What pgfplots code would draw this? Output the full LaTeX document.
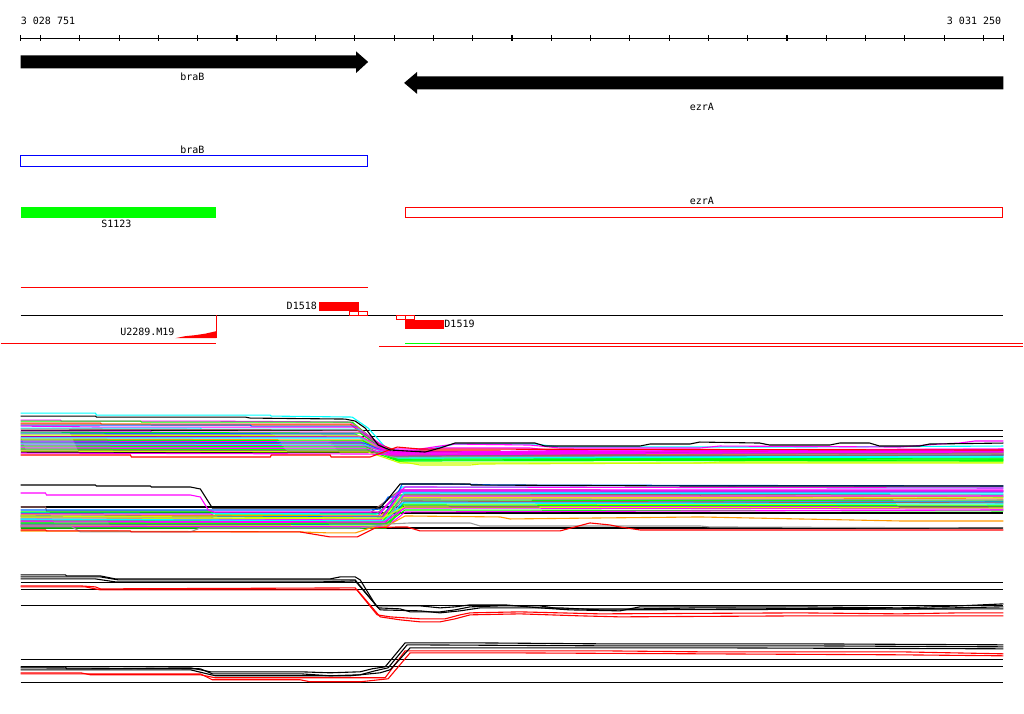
\documentclass[border=0pt]{standalone}
\usepackage{fontspec}
\setmainfont{DejaVu Sans Mono}
\usepackage{pgfplots}
\pgfplotsset{compat=1.18}
\definecolor{cM}{HTML}{FF00FF}
\definecolor{cC}{HTML}{00FFFF}
\definecolor{cL}{HTML}{00FF00}
\definecolor{cB}{HTML}{0066FF}
\definecolor{cO}{HTML}{FF9900}
\definecolor{cW}{HTML}{996666}
\definecolor{cG}{HTML}{999999}
\definecolor{cY}{HTML}{CCFF00}
\definecolor{cR}{HTML}{FF0000}
\definecolor{cK}{HTML}{000000}
\definecolor{cBl}{HTML}{0000FF}
\begin{document}
\begin{tikzpicture}[lbl/.style={font=\fontsize{5}{5}\selectfont, inner sep=0pt}]
\begin{axis}[
  scale only axis, width=512pt, height=357pt,
  xmin=-0.5, xmax=1023.5, ymin=-0.5, ymax=713.5, y dir=reverse,
  hide axis, clip=false, no markers,
  unbounded coords=jump,
  every axis plot/.append style={line width=0.55pt},
]
\path (axis cs:-0.5,-0.5) rectangle (axis cs:1023.5,713.5);

% ruler
\addplot[cK, line width=0.6pt] coordinates {(20,38)(1004,38)};
\addplot[cK] coordinates {
 (20,35)(20,41)(20,nan)(40,35)(40,41)(40,nan)(79.3,35)(79.3,41)(79.3,nan)
 (118.7,35)(118.7,41)(118.7,nan)(158,35)(158,41)(158,nan)(197.3,35)(197.3,41)(197.3,nan)
 (236.7,35)(236.7,41)(236.7,nan)(276,35)(276,41)(276,nan)(315.3,35)(315.3,41)(315.3,nan)
 (354.7,35)(354.7,41)(354.7,nan)(394,35)(394,41)(394,nan)(433.3,35)(433.3,41)(433.3,nan)
 (472.7,35)(472.7,41)(472.7,nan)(512,35)(512,41)(512,nan)(551.3,35)(551.3,41)(551.3,nan)
 (590.7,35)(590.7,41)(590.7,nan)(630,35)(630,41)(630,nan)(669.3,35)(669.3,41)(669.3,nan)
 (708.7,35)(708.7,41)(708.7,nan)(748,35)(748,41)(748,nan)(787.3,35)(787.3,41)(787.3,nan)
 (826.7,35)(826.7,41)(826.7,nan)(866,35)(866,41)(866,nan)(905.3,35)(905.3,41)(905.3,nan)
 (944.7,35)(944.7,41)(944.7,nan)(984,35)(984,41)(984,nan)(1004,35)(1004,41)};
\node[lbl, anchor=west] at (axis cs:20,20) {3 028 751};
\node[lbl, anchor=east] at (axis cs:1002,20) {3 031 250};

% genes
\addplot[fill=cK, draw=none] coordinates {(20,55)(356,55)(356,51)(368,61.5)(356,72.5)(356,68)(20,68)} --cycle;
\node[lbl] at (axis cs:192,76.5) {braB};
\addplot[fill=cK, draw=none] coordinates {(1004,76)(417,76)(417,71.5)(404,82.5)(417,93.5)(417,89)(1004,89)} --cycle;
\node[lbl] at (axis cs:702,106.5) {ezrA};

\node[lbl] at (axis cs:192,149) {braB};
\addplot[cBl] coordinates {(20,155)(367,155)(367,166)(20,166)} --cycle;
\addplot[fill=cL, draw=none] coordinates {(20,207)(216,207)(216,217.5)(20,217.5)} --cycle;
\node[lbl] at (axis cs:116,224) {S1123};
\node[lbl] at (axis cs:702,200.5) {ezrA};
\addplot[cR] coordinates {(405,207)(1003,207)(1003,217)(405,217)} --cycle;

% features
\addplot[cR] coordinates {(20,287)(368,287)};
\addplot[cK] coordinates {(20,315)(1004,315)};
\addplot[fill=cR, draw=none] coordinates {(319,302)(358.5,302)(358.5,310.5)(319,310.5)} --cycle;
\addplot[cR] coordinates {(349,311)(367,311)(367,315)(349,315)} --cycle;
\addplot[cR] coordinates {(358,311)(358,315)};
\node[lbl, anchor=east] at (axis cs:317,306) {D1518};
\addplot[cR] coordinates {(396,315)(414,315)(414,319)(396,319)} --cycle;
\addplot[cR] coordinates {(405,315)(405,319)};
\addplot[fill=cR, draw=none] coordinates {(405,320)(444,320)(444,328.5)(405,328.5)} --cycle;
\node[lbl, anchor=west] at (axis cs:444,324) {D1519};
\addplot[fill=cR, draw=none] coordinates {(175,338)(185,336)(195,335)(205,333.5)(216,331)(216,338)} --cycle;
\addplot[cR] coordinates {(216,315)(216,338)};
\node[lbl, anchor=east] at (axis cs:174.5,332) {U2289.M19};
\addplot[cR] coordinates {(0,343)(216,343)};
\addplot[cL] coordinates {(405,343)(440,343)};
\addplot[cR] coordinates {(440,343)(1024,343)};
\addplot[cR] coordinates {(379,346)(1024,346)};

% group 1
\addplot[cK] coordinates {(20,430)(1004,430)};
\addplot[cK] coordinates {(20,436)(1004,436)};
\addplot[cK] coordinates {(20,452)(1004,452)};
\addplot[cC] coordinates {(20,413)(95,413)(96,415)(270,415)(271,416)(352,417)(368,428)(385,447)(405,452)(430,449)(455,444)(535,444)(560,447)(800,447)(1004,446)};
\addplot[cM] coordinates {(20,420)(60,420)(61,421)(200,421)(350,422)(385,449)(420,449)(440,446)(455,444)(530,445)(560,448)(700,448)(720,446)(900,447)(940,444)(960,443)(975,441)(1004,441)};
\addplot[cL] coordinates {(20,421)(140,421)(141,422)(352,422)(392,455)(420,457)(600,457)(601,458)(1004,459)};
\addplot[cR] coordinates {(20,423)(100,423)(101,424)(350,424)(370,440)(396,451)(500,451)(501,452)(1004,451)};
\addplot[cO] coordinates {(20,424)(150,424)(151,425)(355,425)(388,453)(410,455)(800,454)(1004,455)};
\addplot[cB] coordinates {(20,425)(250,425)(251,426)(355,426)(390,456)(600,455)(601,454)(1004,453)};
\addplot[cM] coordinates {(20,426)(100,427)(356,427)(392,452)(440,448)(530,448)(560,451)(1004,450)};
\addplot[cC] coordinates {(20,428)(200,428)(201,429)(358,429)(390,457)(1004,456)};
\addplot[cW] coordinates {(20,429)(358,430)(394,455)(800,454)(1004,453)};
\addplot[cM] coordinates {(20,431)(150,431)(151,432)(360,432)(388,453)(600,450)(1004,449)};
\addplot[cL] coordinates {(20,432)(300,433)(360,433)(396,459)(1004,460)};
\addplot[cB] coordinates {(20,433)(355,434)(392,456)(1004,455)};
\addplot[cG] coordinates {(20,434)(357,435)(386,454)(1004,452)};
\addplot[cY] coordinates {(20,435)(360,436)(398,461)(420,465)(470,465)(480,464)(700,463)(720,462)(1004,462)};
\addplot[cM] coordinates {(20,437)(362,437)(390,453)(1004,451)};
\addplot[cC] coordinates {(20,438)(360,438)(394,457)(1004,457)};
\addplot[cO] coordinates {(20,439)(362,440)(392,455)(1004,454)};
\addplot[cL] coordinates {(20,440)(363,441)(396,459)(1004,458)};
\addplot[cM] coordinates {(20,441)(360,442)(390,452)(1004,450)};
\addplot[cB] coordinates {(20,442)(364,443)(395,456)(1004,455)};
\addplot[cW] coordinates {(20,443)(362,444)(392,455)(1004,453)};
\addplot[cC] coordinates {(20,444)(365,445)(398,458)(1004,457)};
\addplot[cM] coordinates {(20,445)(364,446)(392,453)(1004,449)};
\addplot[cL] coordinates {(20,446)(366,447)(397,460)(1004,461)};
\addplot[cG] coordinates {(20,447)(365,448)(393,457)(1004,454)};
\addplot[cM] coordinates {(20,448)(366,449)(390,454)(1004,452)};
\addplot[cL] coordinates {(20,449)(367,450)(398,461)(1004,460)};
\addplot[cW] coordinates {(20,450)(368,451)(394,456)(1004,455)};
\addplot[cY] coordinates {(20,451)(368,452)(400,463)(1004,463)};
\addplot[cM] coordinates {(20,453)(368,454)(396,455)(1004,451)};
\addplot[cR] coordinates {(20,455)(130,455)(131,457)(270,457)(271,455)(330,455)(331,457)(370,457)(397,447)(420,449)(1004,450)};
\addplot[cK] coordinates {(20,416)(95,416)(96,417)(245,417)(250,418)(345,419)(355,421)(365,428)(378,445)(390,450)(425,452)(440,448)(455,443)(535,443)(545,446)(640,446)(650,444)(690,444)(700,442)(760,443)(770,445)(830,445)(840,443)(870,443)(880,446)(920,446)(930,444)(1004,443)};

% group 2
\addplot[cK] coordinates {(20,507)(1004,507)};
\addplot[cK] coordinates {(20,513)(1004,513)};
\addplot[cK] coordinates {(20,528)(1004,528)};
\addplot[cW] coordinates {(20,507)(45,507)(46,511)(210,511)(215,513)(370,513)(400,490)(600,490)(601,491)(1004,491)};
\addplot[cL] coordinates {(20,512)(210,512)(215,514)(376,514)(400,495)(700,495)(701,496)(1004,497)};
\addplot[cC] coordinates {(20,513)(380,514)(402,487)(1004,488)};
\addplot[cM] coordinates {(20,514)(210,514)(215,516)(378,516)(400,490)(1004,490)};
\addplot[cO] coordinates {(20,515)(380,516)(401,498)(800,498)(1004,499)};
\addplot[cB] coordinates {(20,516)(382,517)(400,492)(1004,492)};
\addplot[cW] coordinates {(20,517)(210,517)(215,519)(380,519)(403,494)(1004,495)};
\addplot[cY] coordinates {(20,518)(383,519)(400,497)(1004,497)};
\addplot[cM] coordinates {(20,519)(381,520)(402,491)(1004,491)};
\addplot[cC] coordinates {(20,520)(384,521)(404,493)(1004,494)};
\addplot[cL] coordinates {(20,521)(210,521)(215,522)(382,522)(400,500)(1004,501)};
\addplot[cM] coordinates {(20,522)(385,523)(403,496)(1004,496)};
\addplot[cG] coordinates {(20,523)(383,524)(401,499)(1004,500)};
\addplot[cB] coordinates {(20,524)(386,525)(404,502)(1004,502)};
\addplot[cW] coordinates {(20,525)(290,525)(291,523)(360,523)(385,524)(402,501)(1004,503)};
\addplot[cY] coordinates {(20,526)(386,526)(404,504)(1004,505)};
\addplot[cM] coordinates {(20,527)(387,527)(405,506)(1004,507)};
\addplot[cL] coordinates {(20,528)(386,528)(403,505)(1004,506)};
\addplot[cC] coordinates {(20,519)(385,521)(402,503)(1004,504)};
\addplot[cM] coordinates {(20,521)(384,522)(405,508)(1004,509)};
\addplot[cY] coordinates {(20,516)(383,518)(404,507)(1004,508)};
\addplot[cL] coordinates {(20,523)(386,524)(405,510)(1004,511)};
\addplot[cM] coordinates {(20,526)(387,527)(405,512)(1004,510)};
\addplot[cO] coordinates {(20,531)(300,532)(330,533)(355,533)(370,528)(385,527)(405,516)(500,517)(510,519)(600,518)(700,517)(800,519)(900,521)(1004,521)};
\addplot[cG] coordinates {(20,526)(70,526)(80,532)(190,532)(200,528)(360,528)(390,524)(410,523)(470,523)(480,526)(700,526)(710,527)(1004,528)};
\addplot[cR] coordinates {(20,530)(45,530)(46,531)(130,531)(131,532)(300,532)(330,537)(357,537)(375,528)(397,527)(407,527)(420,531)(560,531)(590,523)(610,525)(620,527)(640,530)(1004,530)};
\addplot[cB] coordinates {(20,510)(370,510)(380,509)(388,497)(396,497)(402,484)(450,484)(500,485)(1004,486)};
\addplot[cM] coordinates {(20,493)(45,493)(46,495)(190,495)(200,497)(208,510)(214,512)(380,512)(395,496)(405,487)(1004,488)};
\addplot[cK] coordinates {(20,485)(95,485)(96,486)(150,486)(151,487)(190,487)(200,489)(212,508)(380,508)(388,499)(400,484)(470,484)(471,485)(690,486)(1004,486)};

% group 3
\addplot[cK] coordinates {(20,583)(1004,583)};
\addplot[cK] coordinates {(20,590)(1004,590)};
\addplot[cK] coordinates {(20,606)(1004,606)};
\addplot[cR] coordinates {(20,586)(80,586)(95,587)(100,589)(355,588)(377,615)(390,617)(420,619)(445,619)(460,615)(470,613)(520,612)(560,613)(600,614)(800,613)(900,614)(960,613)(1004,613)};
\addplot[cR] coordinates {(20,587)(85,587)(100,590)(357,590)(380,617)(400,620)(420,622)(440,622)(455,619)(470,615)(520,614)(580,616)(620,617)(800,616)(1004,616)};
\addplot[cK] coordinates {(20,575)(65,575)(66,576)(100,576)(115,579)(330,579)(340,577)(355,577)(360,580)(376,606)(420,606)(440,608)(455,607)(470,605)(505,605)(540,608)(570,610)(620,611)(640,607)(800,607)(900,608)(960,606)(1004,604)};
\addplot[cK] coordinates {(20,577)(100,577)(118,580)(355,580)(378,608)(400,609)(410,612)(440,612)(455,610)(470,607)(500,606)(540,606)(560,609)(640,609)(700,608)(900,609)(1004,607)};
\addplot[cK] coordinates {(20,579)(95,579)(115,582)(320,582)(355,581)(380,610)(420,611)(440,613)(460,611)(480,608)(560,608)(600,610)(1004,609)};

% group 4
\addplot[cK] coordinates {(20,660)(1004,660)};
\addplot[cK] coordinates {(20,667)(1004,667)};
\addplot[cK] coordinates {(20,683)(1004,683)};
\addplot[cR] coordinates {(20,673)(80,673)(90,675)(200,675)(215,678)(300,678)(385,678)(405,651)(600,651)(700,652)(900,652)(1004,654)};
\addplot[cR] coordinates {(20,674)(200,674)(212,680)(300,680)(310,682)(360,682)(388,679)(410,653)(500,653)(700,654)(900,655)(1004,656)};
\addplot[cK] coordinates {(20,667)(65,667)(66,669)(100,669)(190,668)(200,670)(210,672)(300,672)(330,673)(360,672)(372,669)(385,667)(405,643)(470,643)(600,644)(800,644)(1004,645)};
\addplot[cK] coordinates {(20,668)(200,669)(212,674)(300,674)(330,676)(360,675)(375,671)(388,668)(407,645)(600,646)(800,646)(1004,647)};
\addplot[cK] coordinates {(20,670)(190,670)(215,676)(350,676)(380,673)(390,670)(410,648)(700,648)(1004,649)};
\end{axis}
\end{tikzpicture}
\end{document}
